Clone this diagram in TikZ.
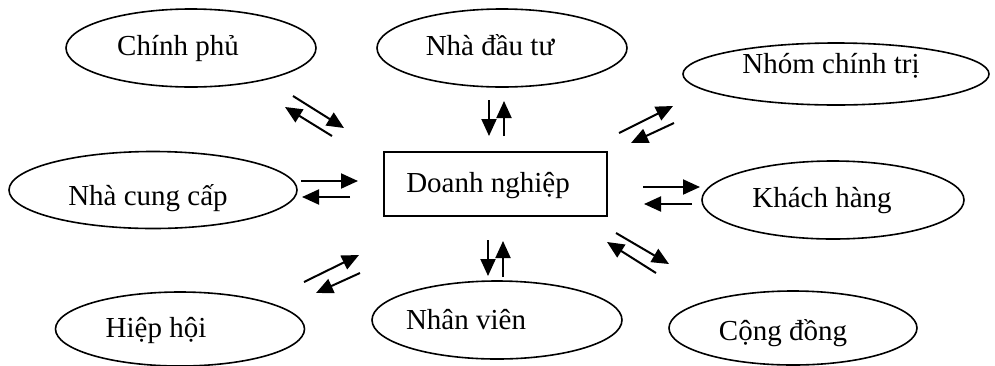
\documentclass[tikz,border=0pt]{standalone}
\usepackage{fontspec}
\setmainfont{Liberation Serif}
\usetikzlibrary{arrows.meta,shapes.geometric}
\begin{document}
\begin{tikzpicture}[x=0.5pt,y=-0.5pt,
  oval/.style={draw,line width=0.8pt,ellipse,inner sep=0pt},
  lbl/.style={anchor=base,inner sep=0pt,font=\fontsize{14.5}{17}\selectfont},
  conn/.style={line width=1pt,-{Triangle[length=8.5pt,width=7.5pt]}}]
\useasboundingbox (0,0) rectangle (995,365);
% ellipses
\node[oval,minimum width=125pt,minimum height=39pt] (cp) at (191,48) {};
\node[oval,minimum width=125pt,minimum height=39pt] (ndt) at (502,48) {};
\node[oval,minimum width=153pt,minimum height=31pt] (nct) at (836,74) {};
\node[oval,minimum width=144pt,minimum height=38.5pt] (ncc) at (153,190) {};
\node[oval,minimum width=131pt,minimum height=39pt] (kh) at (833,200) {};
\node[oval,minimum width=124.5pt,minimum height=37pt] (hh) at (180,329) {};
\node[oval,minimum width=125pt,minimum height=39pt] (nv) at (497,320) {};
\node[oval,minimum width=124pt,minimum height=37pt] (cd) at (793,328) {};
\node[draw,line width=0.8pt,minimum width=111.5pt,minimum height=32pt,inner sep=0pt] (dn) at (495.5,184) {};
% labels
\node[lbl] (tcp) at (178,55) {Chính phủ};
\node[lbl] (tndt) at (490,55) {Nhà đầu tư};
\node[lbl] (tnct) at (831,73) {Nhóm chính trị};
\node[lbl] (tncc) at (148,205) {Nhà cung cấp};
\node[lbl] (tdn) at (488,192) {Doanh nghiệp};
\node[lbl] (tkh) at (822,207) {Khách hàng};
\node[lbl] (thh) at (156,337) {Hiệp hội};
\node[lbl] (tnv) at (466,329) {Nhân viên};
\node[lbl] (tcd) at (783,340) {Cộng đồng};
% arrow end points
\coordinate (a1s) at (293,96);  \coordinate (a1e) at (344,128);
\coordinate (a2s) at (332,136); \coordinate (a2e) at (285,107);
\coordinate (b1s) at (301,181); \coordinate (b1e) at (358,181);
\coordinate (b2s) at (350,197); \coordinate (b2e) at (302,197);
\coordinate (c1s) at (489,100); \coordinate (c1e) at (489,136);
\coordinate (c2s) at (504,136); \coordinate (c2e) at (504,101);
\coordinate (d1s) at (619,133); \coordinate (d1e) at (673,106);
\coordinate (d2s) at (674,123); \coordinate (d2e) at (631,143);
\coordinate (e1s) at (643,187); \coordinate (e1e) at (700,187);
\coordinate (e2s) at (692,204); \coordinate (e2e) at (644,204);
\coordinate (f1s) at (616,233); \coordinate (f1e) at (669,264);
\coordinate (f2s) at (656,273); \coordinate (f2e) at (607,242);
\coordinate (g1s) at (304,282); \coordinate (g1e) at (359,255);
\coordinate (g2s) at (360,273); \coordinate (g2e) at (316,293);
\coordinate (h1s) at (488,240); \coordinate (h1e) at (488,276);
\coordinate (h2s) at (503,277); \coordinate (h2e) at (503,241);
\foreach \p in {a1,a2,b1,b2,c1,c2,d1,d2,e1,e2,f1,f2,g1,g2,h1,h2}
  \draw[conn] (\p s) -- (\p e);
\end{tikzpicture}
\end{document}
